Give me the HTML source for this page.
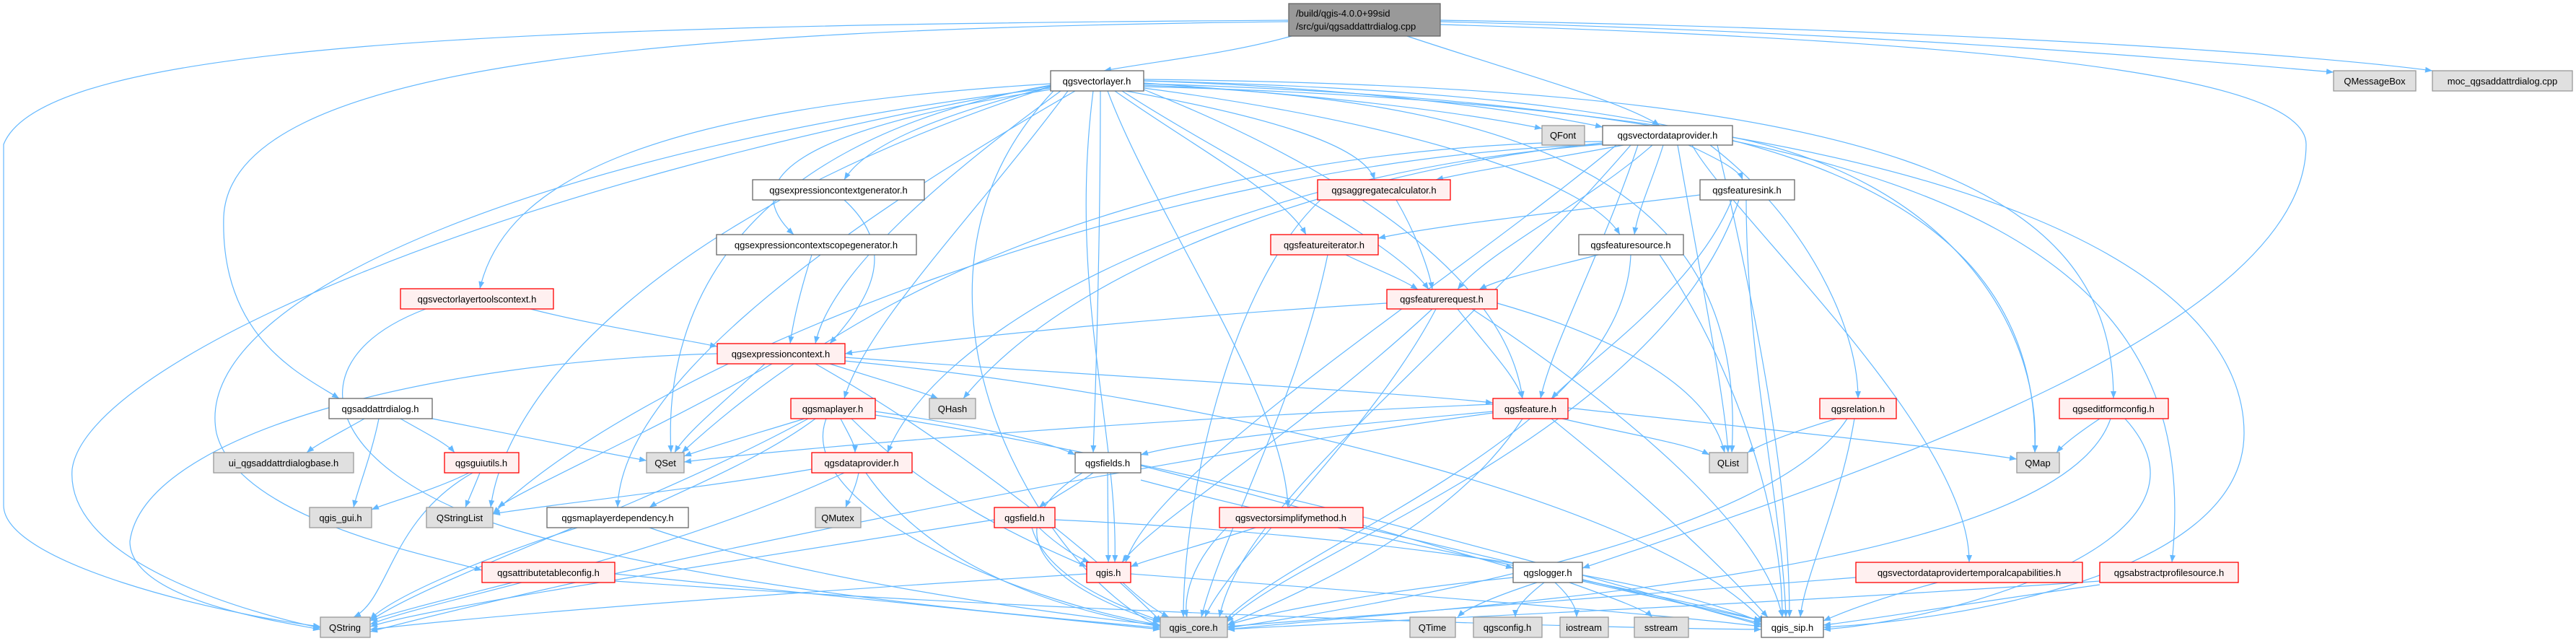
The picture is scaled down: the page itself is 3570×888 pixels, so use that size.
<!DOCTYPE html>
<html><head><meta charset="utf-8"><style>
html,body{margin:0;padding:0;background:#fff;}
svg{display:block;}
text{font-family:"Liberation Sans","DejaVu Sans",sans-serif;font-size:13px;fill:#000;}
.e{fill:none;stroke:#63B8FF;stroke-width:1.2;marker-end:url(#a);}
.w{fill:#fff;stroke:#666;stroke-width:1.3;}
.r{fill:#FFF0F0;stroke:#FF0000;stroke-width:1.3;}
.g{fill:#E0E0E0;stroke:#999;stroke-width:1.3;}
</style></head><body>
<svg width="3570" height="888" viewBox="0 0 3570 888" xmlns="http://www.w3.org/2000/svg">
<defs><marker id="a" markerWidth="10" markerHeight="8" refX="10" refY="4" orient="auto" markerUnits="userSpaceOnUse"><path d="M0,0 L10,4 L0,8z" fill="#63B8FF"/></marker></defs>
<g>
<path class="e" d="M1790,50 C1700,75 1600,85 1530,98"/>
<path class="e" d="M1950,50 C2100,100 2250,140 2300,174"/>
<path class="e" d="M1785,30 C900,40 320,90 310,300 C305,470 420,520 470,552"/>
<path class="e" d="M1785,28 C700,35 60,60 5,200 L5,700 C5,780 300,850 444,868"/>
<path class="e" d="M1996,30 C2600,45 3000,80 3234,100"/>
<path class="e" d="M1996,28 C2700,40 3200,75 3371,98"/>
<path class="e" d="M1996,34 C2900,60 3196,120 3196,200 C3196,450 2600,650 2193,787"/>
<path class="e" d="M1585,115 C1800,130 2000,150 2137,178"/>
<path class="e" d="M1585,112 C1850,120 2100,150 2221,176"/>
<path class="e" d="M1456,120 C1300,160 1200,200 1170,249"/>
<path class="e" d="M1456,124 C1100,180 1020,250 1100,325"/>
<path class="e" d="M1560,126 C1750,160 1890,200 1905,249"/>
<path class="e" d="M1545,126 C1650,200 1780,270 1810,325"/>
<path class="e" d="M1555,126 C1700,220 1930,330 1980,401"/>
<path class="e" d="M1585,122 C1950,170 2200,250 2245,325"/>
<path class="e" d="M1470,126 C1300,250 1150,380 1130,476"/>
<path class="e" d="M1480,126 C1350,300 1200,450 1170,552"/>
<path class="e" d="M1525,126 C1525,300 1520,500 1515,627"/>
<path class="e" d="M1456,118 C1000,200 920,450 930,627"/>
<path class="e" d="M1456,120 C900,300 700,550 680,703"/>
<path class="e" d="M1585,118 C2200,140 2420,300 2400,627"/>
<path class="e" d="M1585,112 C2300,130 2830,200 2820,627"/>
<path class="e" d="M1585,110 C2600,120 2929,250 2929,552"/>
<path class="e" d="M1456,116 C900,150 700,250 665,400"/>
<path class="e" d="M1456,122 C800,200 260,400 300,600 C330,720 600,770 668,790"/>
<path class="e" d="M1490,126 C1100,350 860,550 856,703"/>
<path class="e" d="M1535,126 C1600,300 1780,550 1785,703"/>
<path class="e" d="M1585,116 C2800,150 3050,400 3010,779"/>
<path class="e" d="M1515,126 C1480,400 1550,600 1545,779"/>
<path class="e" d="M1460,126 C1200,400 1450,800 1608,868"/>
<path class="e" d="M1585,120 C2800,150 3110,400 3110,600 C3110,800 2700,860 2527,869"/>
<path class="e" d="M1456,119 C700,250 120,500 100,650 C90,780 350,850 444,870"/>
<path class="e" d="M1585,124 C1900,250 2090,400 2110,552"/>
<path class="e" d="M2250,201 C2150,220 2050,235 1990,249"/>
<path class="e" d="M2340,201 C2380,220 2410,235 2415,249"/>
<path class="e" d="M2305,201 C2290,250 2270,290 2265,325"/>
<path class="e" d="M2290,201 C2200,280 2060,350 2020,401"/>
<path class="e" d="M2270,201 C2220,350 2150,480 2135,552"/>
<path class="e" d="M2370,201 C2500,300 2575,450 2575,552"/>
<path class="e" d="M2345,201 C2400,300 2730,600 2729,779"/>
<path class="e" d="M2325,201 C2360,400 2390,550 2395,627"/>
<path class="e" d="M2401,190 C2700,250 2830,450 2820,627"/>
<path class="e" d="M2221,198 C1900,230 1500,350 1335,552"/>
<path class="e" d="M2221,196 C1800,200 1300,300 945,627"/>
<path class="e" d="M2221,200 C1600,220 900,500 683,712"/>
<path class="e" d="M2221,200 C1700,240 1300,450 1230,627"/>
<path class="e" d="M2260,201 C2000,500 1720,700 1690,855"/>
<path class="e" d="M2380,201 C2450,500 2480,700 2480,855"/>
<path class="e" d="M2240,201 C2000,400 1600,650 1560,779"/>
<path class="e" d="M2356,270 C2200,290 2000,310 1910,330"/>
<path class="e" d="M2400,277 C2350,400 2200,500 2150,552"/>
<path class="e" d="M2410,277 C2300,600 1800,760 1700,862"/>
<path class="e" d="M2420,277 C2420,500 2470,700 2475,855"/>
<path class="e" d="M1935,277 C1960,320 1980,370 1985,401"/>
<path class="e" d="M1830,277 C1700,400 1640,700 1640,855"/>
<path class="e" d="M1170,277 C1250,350 1200,420 1150,476"/>
<path class="e" d="M1125,353 C1110,400 1100,440 1095,476"/>
<path class="e" d="M1865,353 C1900,370 1940,385 1965,401"/>
<path class="e" d="M1840,353 C1800,550 1690,750 1665,855"/>
<path class="e" d="M2215,353 C2150,370 2080,385 2050,401"/>
<path class="e" d="M2260,353 C2250,600 1800,750 1695,862"/>
<path class="e" d="M2300,353 C2400,500 2470,700 2470,855"/>
<path class="e" d="M735,428 C820,450 920,465 994,480"/>
<path class="e" d="M590,428 C400,500 450,650 700,730 C1000,820 1400,850 1608,870"/>
<path class="e" d="M1922,420 C1600,440 1300,470 1171,490"/>
<path class="e" d="M2020,428 C2060,480 2100,520 2110,552"/>
<path class="e" d="M1985,428 C1800,600 1600,720 1555,779"/>
<path class="e" d="M2075,420 C2250,470 2370,540 2390,627"/>
<path class="e" d="M1990,428 C1900,600 1700,780 1670,855"/>
<path class="e" d="M2040,428 C2300,600 2450,750 2470,855"/>
<path class="e" d="M1171,495 C1500,520 1900,540 2069,558"/>
<path class="e" d="M1060,504 C1000,560 950,600 935,627"/>
<path class="e" d="M1070,504 C900,600 720,680 690,703"/>
<path class="e" d="M994,490 C600,500 200,600 180,750 C180,830 380,860 444,872"/>
<path class="e" d="M1130,504 C1300,600 1500,750 1610,862"/>
<path class="e" d="M1171,500 C1700,550 2300,700 2445,862"/>
<path class="e" d="M1150,504 C1200,520 1270,540 1300,552"/>
<path class="e" d="M505,580 C470,600 440,615 425,627"/>
<path class="e" d="M555,580 C590,600 620,615 630,627"/>
<path class="e" d="M525,580 C515,630 495,680 490,703"/>
<path class="e" d="M599,580 C700,600 850,630 896,638"/>
<path class="e" d="M1115,580 C1050,600 980,620 948,632"/>
<path class="e" d="M1165,580 C1175,600 1185,615 1185,627"/>
<path class="e" d="M1130,580 C1050,640 920,690 900,703"/>
<path class="e" d="M1145,580 C1100,700 1400,830 1608,866"/>
<path class="e" d="M1213,575 C1700,650 2200,800 2441,866"/>
<path class="e" d="M1120,580 C900,700 600,800 513,860"/>
<path class="e" d="M1213,570 C1350,590 1450,610 1490,630"/>
<path class="e" d="M1180,580 C1300,700 1450,760 1506,785"/>
<path class="e" d="M2069,570 C1850,590 1650,610 1581,630"/>
<path class="e" d="M2165,580 C2250,600 2340,615 2369,630"/>
<path class="e" d="M2173,565 C2400,590 2700,620 2795,636"/>
<path class="e" d="M2069,560 C1600,580 1100,620 948,640"/>
<path class="e" d="M2110,580 C2000,750 1750,840 1701,866"/>
<path class="e" d="M2150,580 C2300,700 2400,800 2450,855"/>
<path class="e" d="M2069,572 C1500,650 800,800 513,875"/>
<path class="e" d="M2545,580 C2480,600 2440,615 2422,627"/>
<path class="e" d="M2560,580 C2450,750 1900,840 1701,870"/>
<path class="e" d="M2570,580 C2550,700 2500,800 2495,855"/>
<path class="e" d="M2910,580 C2880,600 2860,615 2850,627"/>
<path class="e" d="M2925,580 C2850,800 2000,840 1701,872"/>
<path class="e" d="M2945,580 C3100,750 2700,860 2527,872"/>
<path class="e" d="M650,655 C600,680 540,695 515,706"/>
<path class="e" d="M665,655 C655,680 648,695 645,703"/>
<path class="e" d="M655,655 C540,720 540,830 490,855"/>
<path class="e" d="M1125,650 C950,680 750,700 683,712"/>
<path class="e" d="M1190,655 C1185,680 1175,695 1172,703"/>
<path class="e" d="M1170,655 C900,780 600,830 513,865"/>
<path class="e" d="M1200,655 C1300,800 1500,850 1608,868"/>
<path class="e" d="M1515,655 C1480,680 1450,695 1440,703"/>
<path class="e" d="M1535,655 L1536,779"/>
<path class="e" d="M1500,655 C1350,750 1500,830 1608,862"/>
<path class="e" d="M1581,665 C1900,750 2300,820 2441,860"/>
<path class="e" d="M1581,645 C1800,700 2000,760 2097,787"/>
<path class="e" d="M1440,731 C1470,760 1500,775 1510,779"/>
<path class="e" d="M1430,731 C1450,800 1550,840 1608,860"/>
<path class="e" d="M1462,720 C1900,740 2300,800 2441,862"/>
<path class="e" d="M1378,720 C1000,780 600,840 513,868"/>
<path class="e" d="M1740,731 C1650,760 1590,775 1567,785"/>
<path class="e" d="M1700,731 C1650,780 1640,830 1645,855"/>
<path class="e" d="M1889,731 C2100,780 2350,840 2441,864"/>
<path class="e" d="M800,731 C650,780 540,830 513,858"/>
<path class="e" d="M900,731 C1100,800 1450,850 1608,866"/>
<path class="e" d="M710,807 C620,830 540,850 513,860"/>
<path class="e" d="M852,795 C1100,820 1400,850 1608,872"/>
<path class="e" d="M852,805 C1500,850 2200,870 2441,872"/>
<path class="e" d="M1556,807 C1580,830 1600,845 1620,855"/>
<path class="e" d="M1567,795 C1900,820 2300,850 2441,868"/>
<path class="e" d="M1506,795 C1100,820 700,850 513,872"/>
<path class="e" d="M2097,800 C1900,820 1750,850 1701,866"/>
<path class="e" d="M2130,807 C2060,830 2030,845 2020,855"/>
<path class="e" d="M2140,807 C2110,830 2100,845 2100,855"/>
<path class="e" d="M2155,807 C2180,830 2185,845 2185,855"/>
<path class="e" d="M2175,807 C2240,830 2280,845 2290,855"/>
<path class="e" d="M2193,805 C2300,830 2400,850 2441,860"/>
<path class="e" d="M2572,800 C2200,830 1900,850 1701,868"/>
<path class="e" d="M2685,807 C2600,830 2550,850 2527,860"/>
<path class="e" d="M2910,805 C2400,840 1900,860 1701,872"/>
<path class="e" d="M2910,810 C2700,840 2580,860 2527,866"/>
</g>
<g>
<rect x="1786" y="5" width="210" height="45" fill="#999" stroke="#666" stroke-width="1.3"/>
<text x="1796" y="23">/build/qgis-4.0.0+99sid</text>
<text x="1796" y="41">/src/gui/qgsaddattrdialog.cpp</text>
</g>
<g text-anchor="middle">
<rect class="w" x="1456" y="98" width="129" height="28"/><text x="1520" y="117">qgsvectorlayer.h</text>
<rect class="g" x="3234" y="98" width="114" height="28"/><text x="3291" y="117">QMessageBox</text>
<rect class="g" x="3371" y="98" width="194" height="28"/><text x="3468" y="117">moc_qgsaddattrdialog.cpp</text>
<rect class="g" x="2137" y="174" width="59" height="27"/><text x="2166" y="192">QFont</text>
<rect class="w" x="2221" y="174" width="180" height="27"/><text x="2311" y="192">qgsvectordataprovider.h</text>
<rect class="w" x="1043" y="249" width="238" height="28"/><text x="1162" y="268">qgsexpressioncontextgenerator.h</text>
<rect class="r" x="1826" y="249" width="184" height="28"/><text x="1918" y="268">qgsaggregatecalculator.h</text>
<rect class="w" x="2356" y="249" width="131" height="28"/><text x="2421" y="268">qgsfeaturesink.h</text>
<rect class="w" x="993" y="325" width="277" height="28"/><text x="1131" y="344">qgsexpressioncontextscopegenerator.h</text>
<rect class="r" x="1761" y="325" width="149" height="28"/><text x="1835" y="344">qgsfeatureiterator.h</text>
<rect class="w" x="2188" y="325" width="145" height="28"/><text x="2260" y="344">qgsfeaturesource.h</text>
<rect class="r" x="555" y="400" width="212" height="28"/><text x="661" y="419">qgsvectorlayertoolscontext.h</text>
<rect class="r" x="1922" y="401" width="153" height="27"/><text x="1998" y="419">qgsfeaturerequest.h</text>
<rect class="r" x="994" y="476" width="177" height="28"/><text x="1082" y="495">qgsexpressioncontext.h</text>
<rect class="w" x="456" y="552" width="143" height="28"/><text x="527" y="571">qgsaddattrdialog.h</text>
<rect class="r" x="1096" y="552" width="117" height="28"/><text x="1154" y="571">qgsmaplayer.h</text>
<rect class="g" x="1288" y="552" width="64" height="28"/><text x="1320" y="571">QHash</text>
<rect class="r" x="2069" y="552" width="104" height="28"/><text x="2121" y="571">qgsfeature.h</text>
<rect class="r" x="2522" y="552" width="106" height="28"/><text x="2575" y="571">qgsrelation.h</text>
<rect class="r" x="2854" y="552" width="151" height="28"/><text x="2929" y="571">qgseditformconfig.h</text>
<rect class="g" x="296" y="627" width="194" height="28"/><text x="393" y="646">ui_qgsaddattrdialogbase.h</text>
<rect class="r" x="616" y="627" width="103" height="28"/><text x="667" y="646">qgsguiutils.h</text>
<rect class="g" x="896" y="627" width="52" height="28"/><text x="922" y="646">QSet</text>
<rect class="r" x="1125" y="627" width="139" height="28"/><text x="1194" y="646">qgsdataprovider.h</text>
<rect class="w" x="1490" y="627" width="91" height="28"/><text x="1535" y="646">qgsfields.h</text>
<rect class="g" x="2369" y="627" width="53" height="28"/><text x="2395" y="646">QList</text>
<rect class="g" x="2795" y="627" width="59" height="28"/><text x="2824" y="646">QMap</text>
<rect class="g" x="429" y="703" width="86" height="28"/><text x="472" y="722">qgis_gui.h</text>
<rect class="g" x="591" y="703" width="92" height="28"/><text x="637" y="722">QStringList</text>
<rect class="w" x="758" y="703" width="196" height="28"/><text x="856" y="722">qgsmaplayerdependency.h</text>
<rect class="g" x="1130" y="703" width="63" height="28"/><text x="1161" y="722">QMutex</text>
<rect class="r" x="1378" y="703" width="84" height="28"/><text x="1420" y="722">qgsfield.h</text>
<rect class="r" x="1690" y="703" width="199" height="28"/><text x="1789" y="722">qgsvectorsimplifymethod.h</text>
<rect class="r" x="668" y="779" width="184" height="28"/><text x="760" y="798">qgsattributetableconfig.h</text>
<rect class="r" x="1506" y="779" width="61" height="28"/><text x="1536" y="798">qgis.h</text>
<rect class="w" x="2097" y="779" width="96" height="28"/><text x="2145" y="798">qgslogger.h</text>
<rect class="r" x="2572" y="779" width="314" height="28"/><text x="2729" y="798">qgsvectordataprovidertemporalcapabilities.h</text>
<rect class="r" x="2910" y="779" width="192" height="28"/><text x="3006" y="798">qgsabstractprofilesource.h</text>
<rect class="g" x="444" y="855" width="69" height="28"/><text x="478" y="874">QString</text>
<rect class="g" x="1608" y="855" width="93" height="28"/><text x="1654" y="874">qgis_core.h</text>
<rect class="g" x="1954" y="855" width="63" height="28"/><text x="1985" y="874">QTime</text>
<rect class="g" x="2042" y="855" width="95" height="28"/><text x="2089" y="874">qgsconfig.h</text>
<rect class="g" x="2162" y="855" width="67" height="28"/><text x="2195" y="874">iostream</text>
<rect class="g" x="2265" y="855" width="75" height="28"/><text x="2302" y="874">sstream</text>
<rect class="w" x="2441" y="855" width="86" height="28"/><text x="2484" y="874">qgis_sip.h</text>
</g>
</svg>
</body></html>
